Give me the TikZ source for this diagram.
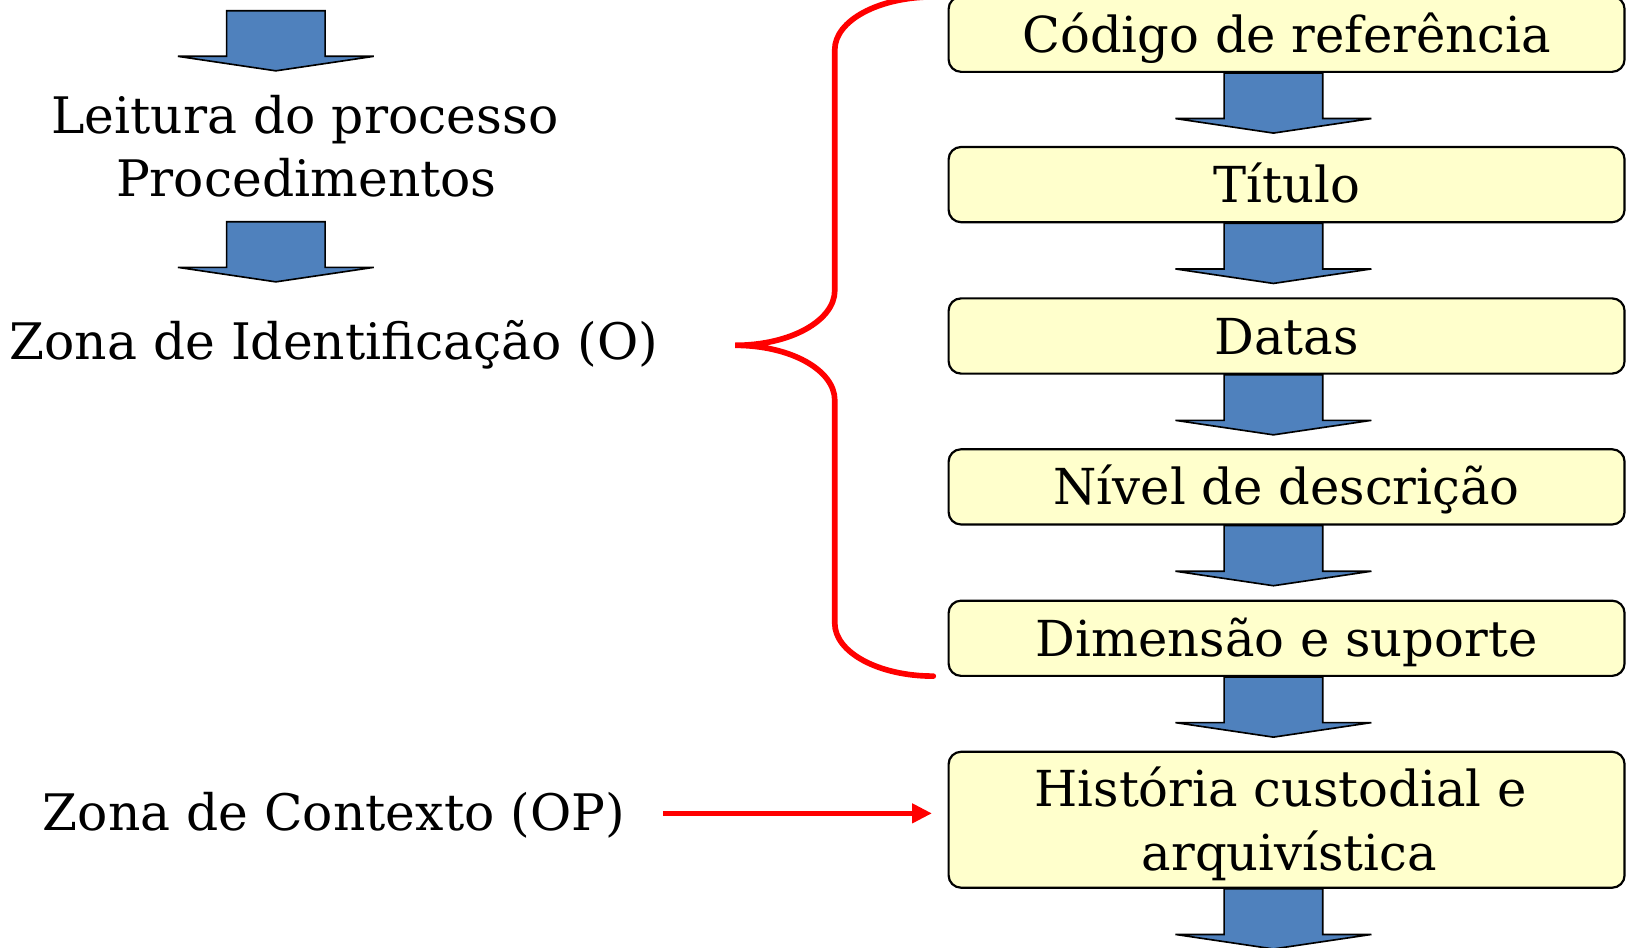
\documentclass[tikz,border=0pt]{standalone}
\usepackage{fontspec}
\setmainfont{DejaVu Serif}
\usetikzlibrary{calc,arrows.meta}
\definecolor{arrowblue}{HTML}{4F81BD}
\definecolor{boxyellow}{HTML}{FFFFCC}
\definecolor{bracered}{HTML}{FF0000}
\newcommand{\mainsz}{\fontsize{13.6pt}{17.35pt}\selectfont}
\newcommand{\leftsz}{\fontsize{13.8pt}{17.35pt}\selectfont}
\newcommand{\blockarrow}[1]{%
  \draw[blockarr] #1 ++(-47.5,0) -- ++(0,44) -- ++(-47,0) -- ++(94.5,14)
    -- ++(94.5,-14) -- ++(-47,0) -- ++(0,-44) -- cycle;}
\begin{document}
\begin{tikzpicture}[x=0.01cm,y=-0.01cm,
  every node/.style={font=\mainsz},
  plaintext/.style={inner sep=0pt, anchor=base},
  lefttext/.style={plaintext, font=\leftsz},
  stagebox/.style={draw=black, line width=0.6pt, fill=boxyellow,
    rounded corners=0.12cm, minimum width=6.515cm, minimum height=0.725cm,
    inner sep=0pt, text height=9.9pt, text depth=0pt},
  blockarr/.style={draw=black, line width=0.45pt, fill=arrowblue, line join=miter},
  bracestyle/.style={draw=bracered, line width=1.55pt, line cap=round},
  redarrow/.style={draw=bracered, line width=1.45pt,
    -{Triangle[length=0.19cm,width=0.18cm]}}]
\useasboundingbox (0,0) rectangle (1568,914);

% left column
\blockarrow{(266,10.3)}
\node[lefttext] (lead1) at (294,128.5) {Leitura do processo};
\node[lefttext] (lead2) at (295.5,189.7) {Procedimentos};
\blockarrow{(266,213.8)}
\node[lefttext] (zid) at (322,347) {Zona de Identificação (O)};
\node[lefttext] (ctx) at (322,801) {Zona de Contexto (OP)};

% right column
\node[stagebox] (b1) at (1240.7,33) {Código de referência};
\node[stagebox] (b2) at (1240.7,178) {Título};
\node[stagebox] (b3) at (1240.7,324) {Datas};
\node[stagebox] (b4) at (1240.7,469.5) {Nível de descrição};
\node[stagebox] (b5) at (1240.7,615.5) {Dimensão e suporte};
\node[stagebox, minimum height=1.31cm] (b6) at (1240.7,790.5) {};
\node[plaintext] (b6a) at ($(b6.center)+(-5.7,-13.2)$) {História custodial e};
\node[plaintext] (b6b) at ($(b6.center)+(2.8,48.5)$) {arquivística};

\foreach \n in {b1,b2,b3,b4,b5,b6}{
  \blockarrow{($(\n.south)+(-12.7,0)$)}
}

% brace
\draw[bracestyle] (900,-3) .. controls (847.5,-3) and (805,19.8) .. (805,48)
  -- (805,280) .. controls (805,309.3) and (762,333) .. (709,333)
  .. controls (762,333) and (805,356.7) .. (805,386)
  -- (805,601) .. controls (805,629.2) and (847.5,652) .. (900,652);

% context arrow
\draw[redarrow] ([xshift=0.36cm,yshift=0.02cm]ctx.east) -- ([xshift=-0.15cm,yshift=0.02cm]ctx.east -| b6.west);
\end{tikzpicture}
\end{document}
